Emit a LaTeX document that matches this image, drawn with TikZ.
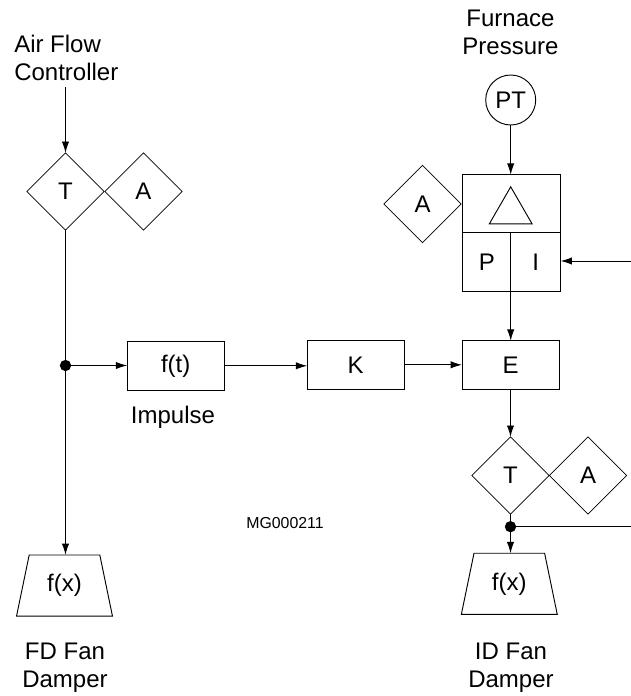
\documentclass[tikz,border=0pt]{standalone}
\usepackage{fontspec}
\setmainfont{Liberation Sans}
\usetikzlibrary{shapes.geometric,arrows.meta}
\tikzset{
  every node/.style={font=\fontsize{18}{21}\selectfont},
  txt/.style={align=center,inner sep=0pt},
  conn/.style={line width=0.7pt},
  flow/.style={conn,-{Latex[length=8.5pt,width=5.5pt]}},
  dia/.style={diamond,draw,line width=0.6pt,aspect=1,inner sep=0pt,outer sep=0pt,minimum size=58pt},
  block/.style={rectangle,draw,line width=0.7pt,inner sep=0pt,outer sep=0pt,minimum width=72.8pt,minimum height=36.4pt},
  damper/.style={trapezium,draw,line width=0.7pt,inner sep=0pt,outer sep=0pt,trapezium stretches=true,
    trapezium left angle=74.5,trapezium right angle=74.5,minimum width=72pt,minimum height=45.8pt},
  junc/.style={circle,fill=black,inner sep=0pt,minimum size=8.5pt}
}
\begin{document}
\begin{tikzpicture}[x=0.75pt,y=-0.75pt]
  \useasboundingbox (0,0) rectangle (631,696);

  % labels
  \node[txt,align=left,anchor=west] (lblair) at (14,58) {Air Flow\\Controller};
  \node[txt] (lblfurn) at (510.5,32) {Furnace\\Pressure};
  \node[txt] (lblimp) at (173,417) {Impulse};
  \node[txt,font=\fontsize{11.9}{14}\selectfont] (lblmg) at (285,523) {MG000211};
  \node[txt] (lblfd) at (65,668) {FD Fan\\Damper};
  \node[txt] (lblid) at (511,668) {ID Fan\\Damper};

  % left column
  \coordinate (airin) at (65.5,87);
  \node[dia] (tl) at (65.5,191.5) {T};
  \node[dia] (al) at (143.5,191.5) {A};
  \node[junc] (jl) at (65.5,365.5) {};
  \node[damper] (fdx) at (64.5,585.5) {f(x)};

  % middle row
  \node[block] (ft) at (175.7,365.8) {f(t)};
  \node[block] (kk) at (355.7,364.8) {K};
  \node[block] (ee) at (510.5,365) {E};

  % right column
  \node[circle,draw,line width=0.7pt,inner sep=0pt,outer sep=0pt,minimum size=37.5pt] (pt) at (510.7,100) {PT};
  \node[dia] (ar) at (422.5,204) {A};
  \node[rectangle,draw,line width=0.7pt,outer sep=0pt,minimum width=73.5pt,minimum height=43.5pt] (gain) at (511.7,203.7) {};
  \node[regular polygon,regular polygon sides=3,draw,line width=0.7pt,inner sep=0pt,outer sep=0pt,minimum size=37pt] (tri) at (510.7,211.5) {};
  \node[rectangle,draw,line width=0.7pt,outer sep=0pt,minimum width=36.2pt,minimum height=44.25pt] (pp) at (486.8,262.2) {P};
  \node[rectangle,draw,line width=0.7pt,outer sep=0pt,minimum width=37.3pt,minimum height=44.25pt] (ii) at (535.7,262.2) {I};
  \coordinate (iin) at (631,261);
  \node[dia] (tr) at (510.5,475.5) {T};
  \node[dia] (at) at (588,475.5) {A};
  \node[junc] (jr) at (510.5,526.7) {};
  \coordinate (jout) at (631,526.7);
  \node[damper] (idx) at (509.3,583.8) {f(x)};

  % left connectors
  \draw[flow] (airin) -- (tl.north);
  \draw[conn] (tl.south) -- (jl.center);
  \draw[flow] (jl.center) -- (jl.center |- fdx.top side);
  \draw[flow] (jl.center) -- (jl.center -| ft.west);

  % middle connectors
  \draw[flow] (ft.east) -- (ft.east -| kk.west);
  \draw[flow] (kk.east) -- (kk.east -| ee.west);

  % right connectors
  \draw[flow] (pt.south) -- (gain.north -| pt.south);
  \draw[flow] (gain.south -| pt.south) -- (ee.north -| pt.south);
  \draw[flow] (iin) -- (ii.east |- iin);
  \draw[flow] (ee.south) -- (tr.north);
  \draw[conn] (tr.south) -- (jr.center);
  \draw[flow] (jr.center) -- (jr.center |- idx.top side);
  \draw[conn] (jr.center) -- (jout);
\end{tikzpicture}
\end{document}
